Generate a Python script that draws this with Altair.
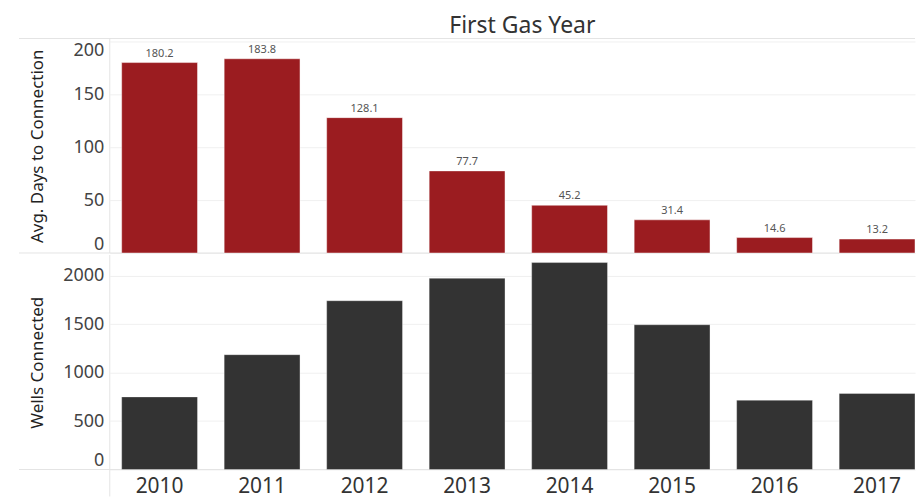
import altair as alt
import pandas as pd

years = ["2010", "2011", "2012", "2013", "2014", "2015", "2016", "2017"]
avg_days = [180.2, 183.8, 128.1, 77.7, 45.2, 31.4, 14.6, 13.2]
wells = [750, 1186, 1743, 1975, 2137, 1495, 716, 785]

days_ticks = [0, 50, 100, 150, 200]
wells_ticks = [0, 500, 1000, 1500, 2000]

df = pd.DataFrame({"year": years, "days": avg_days, "wells": wells})
one = pd.DataFrame({"k": [0]})

W = 807
H = 215
FONT = "Noto Sans"
LINE = "#e4e4e4"
xscale = alt.Scale(paddingInner=0.26, paddingOuter=0.058, align=1)


def yaxis(title, ticks):
    return alt.Axis(
        title=title, values=ticks, format="d", grid=True, gridColor="#f0f0f0",
        gridWidth=1, domain=False, ticks=False, labelFontSize=18,
        labelColor="#444", labelPadding=6, labelFlush=10, minExtent=55,
        maxExtent=55, titlePadding=8, titleFontSize=17,
        titleFontWeight="normal", titleColor="#222", labelFont=FONT,
        titleFont=FONT,
    )


def hrule(ypos):
    return alt.Chart(one).mark_rule(color=LINE, strokeWidth=1).encode(
        x=alt.value(-91), x2=alt.value(W), y=alt.value(ypos)
    )


def vrule(y2pos):
    return alt.Chart(one).mark_rule(color=LINE, strokeWidth=1).encode(
        x=alt.value(0), y=alt.value(0), y2=alt.value(y2pos)
    )


base_top = alt.Chart(df).encode(x=alt.X("year:N", scale=xscale, axis=None))
bars_top = base_top.mark_bar(
    color="#9b1c20", stroke="#ffffff", strokeOpacity=0.45, strokeWidth=1
).encode(
    y=alt.Y("days:Q", scale=alt.Scale(domain=[0, 203], nice=False),
            axis=yaxis("Avg. Days to Connection", days_ticks))
)
labels_top = base_top.mark_text(
    baseline="bottom", dy=-4, fontSize=11, color="#555", font=FONT
).encode(y="days:Q", text=alt.Text("days:Q", format=".1f"))

top = alt.layer(hrule(0), hrule(H), vrule(H), bars_top, labels_top).properties(
    width=W, height=H,
    title=alt.TitleParams("First Gas Year", fontSize=23, font=FONT,
                          fontWeight="normal", color="#333", anchor="middle",
                          offset=0, dx=10),
)

base_bot = alt.Chart(df).encode(
    x=alt.X("year:N", scale=xscale,
            axis=alt.Axis(title=None, labelAngle=0, labelFontSize=21,
                          labelColor="#333", labelPadding=6, ticks=False,
                          domain=False, grid=False, labelFont=FONT))
)
bars_bot = base_bot.mark_bar(
    color="#333333", stroke="#ffffff", strokeOpacity=0.35, strokeWidth=1
).encode(
    y=alt.Y("wells:Q", scale=alt.Scale(domain=[0, 2215], nice=False),
            axis=yaxis("Wells Connected", wells_ticks))
)

bottom = alt.layer(hrule(H), vrule(H + 27), bars_bot).properties(width=W, height=H)

chart = alt.vconcat(top, bottom, spacing=0).properties(
    padding={"left": 10, "top": 6, "right": 0, "bottom": 2}
).configure_view(stroke="transparent")

chart.save("out.html", embed_options={"renderer": "svg", "actions": False})
